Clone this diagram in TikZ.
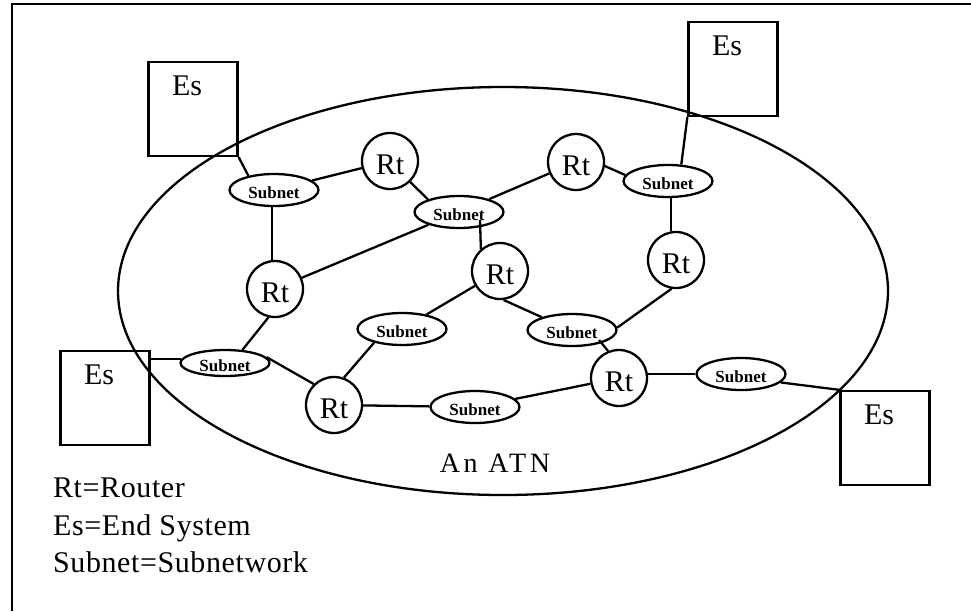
\documentclass[tikz,border=0pt]{standalone}
\usepackage{fontspec}
\setmainfont{Liberation Serif}
\usetikzlibrary{shapes.geometric,calc}
\begin{document}
\begin{tikzpicture}[x=1pt,y=-1pt,line width=2.3pt,
  router/.style={circle,draw,minimum size=56pt,inner sep=0pt,
    font=\fontsize{30}{32}\selectfont,text height=27pt,text depth=0pt},
  subnet/.style={ellipse,draw,minimum width=89pt,minimum height=32pt,inner sep=0pt,
    font=\bfseries\fontsize{17}{19}\selectfont,text height=17pt,text depth=0pt},
  endsys/.style={rectangle,draw,minimum width=89pt,minimum height=94pt,inner sep=0pt,
    text height=33pt,text depth=61pt,font=\fontsize{30}{32}\selectfont,
    execute at end node={\hspace*{12pt}}},
  legendtext/.style={anchor=base west,inner sep=0pt,
    font=\fontsize{30}{32}\selectfont\addfontfeature{LetterSpace=2}},
]
\useasboundingbox (0,0) rectangle (971,611);

% frame (top and left edges)
\coordinate (frameBL) at (12,611);
\coordinate (frameTR) at (971,4);
\draw[line width=2.4pt] (frameBL) |- (frameTR);

% the network boundary
\node[ellipse,draw,minimum width=770pt,minimum height=408pt,inner sep=0pt] (atn) at (503,291) {};
\node[anchor=base,inner sep=0pt,font=\fontsize{28}{30}\selectfont\addfontfeature{LetterSpace=13}]
  (atnlabel) at (495,472) {An ATN};

% end systems
\node[endsys] (E1) at (193,109) {Es};
\node[endsys] (E2) at (733,69) {Es};
\node[endsys] (E3) at (105,398) {Es};
\node[endsys] (E4) at (885,438) {Es};

% routers
\node[router] (R1) at (390,161) {Rt};
\node[router] (R2) at (576,162) {Rt};
\node[router] (R3) at (275,289) {Rt};
\node[router] (R4) at (500,271) {Rt};
\node[router] (R5) at (676,260) {Rt};
\node[router] (R6) at (334,405) {Rt};
\node[router] (R7) at (619,378) {Rt};

% subnetworks
\node[subnet] (S1) at (274,190) {Subnet};
\node[subnet] (S2) at (459,212) {Subnet};
\node[subnet] (S3) at (668,181) {Subnet};
\node[subnet,minimum height=26pt] (S4) at (225,363) {Subnet};
\node[subnet] (S5) at (402,329) {Subnet};
\node[subnet] (S6) at (572,330) {Subnet};
\node[subnet] (S7) at (475,407) {Subnet};
\node[subnet] (S8) at (741,374) {Subnet};

% links
\draw (E1.south east) -- (S1.151);
\draw (S1) -- (R1);
\draw (S1.south -| R3.96) -- (R3.96);
\draw (R1.-46) -- (S2.158);
\draw (S2) -- (R3);
\draw (S2) -- (R2);
\draw ([shift={(21,8)}]S2.center) -- (R4.131);
\draw (R2.-8) -- (S3.172);
\draw (S3.51) -- (E2.south west);
\draw (S3.south -| R5.100) -- (R5.100);
\draw (R5.261) -- (S6.3);
\draw (R4) -- (S5);
\draw (R4.-83) -- (S6.157);
\draw ([shift={(27,10)}]S6.center) -- (R7.112);
\draw (S5.206) -- (R6.70);
\draw (R6) -- (S7);
\draw (S7) -- (R7);
\draw (S8.west -| R7.east) -- (S8.west);
\draw (S8.-12) -- (E4.north west);
\draw (R3.257) -- (S4.37);
\draw (S4.175) -- (S4.175 -| E3.east);
\draw (S4.8) -- (R6.134);

% legend
\node[legendtext] (lg1) at (52,497) {Rt=Router};
\node[legendtext] (lg2) at (52,535) {Es=End System};
\node[legendtext] (lg3) at (52,572) {Subnet=Subnetwork};
\end{tikzpicture}
\end{document}
